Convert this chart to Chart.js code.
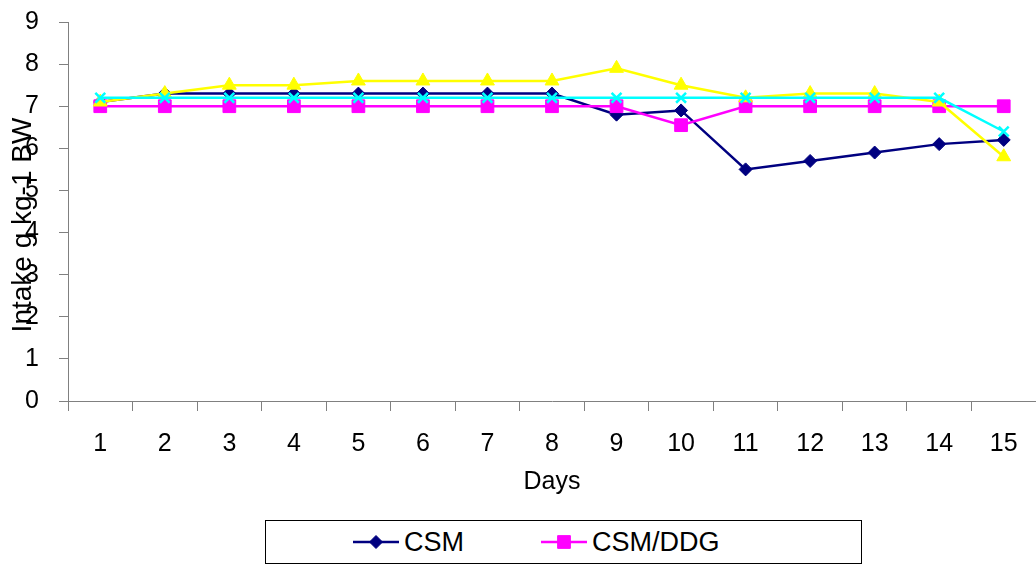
<!DOCTYPE html>
<html>
<head>
<meta charset="utf-8">
<script src="https://cdn.jsdelivr.net/npm/chart.js@4.4.1/dist/chart.umd.min.js"></script>
<style>
  html, body { margin: 0; padding: 0; background: #fff; }
  #wrap { position: relative; width: 1036px; height: 567px; }
  #legend {
    position: absolute; left: 265px; top: 520px; width: 597px; height: 44px;
    box-sizing: border-box; border: 1px solid #000; background: #fff;
    display: flex; align-items: center; padding-left: 87px;
  }
  .item { width: 188px; display: flex; align-items: center; }
  .item canvas { margin-right: 5px; }
  .item span { font-family: "Liberation Sans Narrow", "Liberation Sans", sans-serif; font-size: 27px; color: #000; }
</style>
</head>
<body>
<div id="wrap">
  <canvas id="chart" width="1036" height="567"></canvas>
  <div id="legend"></div>
</div>
<script>
const days = ['1', '2', '3', '4', '5', '6', '7', '8', '9', '10', '11', '12', '13', '14', '15'];
const csm = [7.1, 7.3, 7.3, 7.3, 7.3, 7.3, 7.3, 7.3, 6.8, 6.9, 5.5, 5.7, 5.9, 6.1, 6.2];
const csmDdg = [7.0, 7.0, 7.0, 7.0, 7.0, 7.0, 7.0, 7.0, 7.0, 6.55, 7.0, 7.0, 7.0, 7.0, 7.0];
const diet3 = [7.1, 7.3, 7.5, 7.5, 7.6, 7.6, 7.6, 7.6, 7.9, 7.5, 7.2, 7.3, 7.3, 7.1, 5.8];
const diet4 = [7.2, 7.2, 7.2, 7.2, 7.2, 7.2, 7.2, 7.2, 7.2, 7.2, 7.2, 7.2, 7.2, 7.2, 6.4];

const narrow = '"Liberation Sans Narrow", "Liberation Sans", sans-serif';

function series(label, data, color, style, radius, order) {
    return {
        label, data, order,
        borderColor: color,
        backgroundColor: color,
        borderWidth: 2.5,
        tension: 0,
        pointStyle: style,
        pointRadius: radius,
        pointHoverRadius: radius,
        pointBorderColor: color,
        pointBackgroundColor: color,
        pointBorderWidth: style === 'crossRot' ? 2.5 : 1
    };
}

// y-axis title sits over the tick labels, as in the original
const yTitle = {
    id: 'yTitle',
    afterDraw(chart) {
        const ctx = chart.ctx;
        ctx.save();
        ctx.translate(23, 225);
        ctx.rotate(-Math.PI / 2);
        ctx.font = '28px "Liberation Sans", sans-serif';
        ctx.fillStyle = '#000';
        ctx.textAlign = 'center';
        ctx.textBaseline = 'middle';
        ctx.fillText('Intake g kg-1 BW', 0, 0);
        ctx.restore();
    }
};

const chart = new Chart(document.getElementById('chart'), {
    type: 'line',
    data: {
        labels: days,
        datasets: [
            series('CSM', csm, '#000080', 'rectRot', 6.5, 3),
            series('CSM/DDG', csmDdg, '#FF00FF', 'rect', 9, 2),
            series('Diet 3', diet3, '#FFFF00', 'triangle', 8, 1),
            series('Diet 4', diet4, '#00FFFF', 'crossRot', 7, 0)
        ]
    },
    options: {
        responsive: false,
        animation: false,
        layout: { autoPadding: false, padding: { top: 22, bottom: 48, left: 0, right: 0 } },
        plugins: { legend: { display: false }, tooltip: { enabled: false } },
        scales: {
            x: {
                offset: true,
                grid: { offset: true, drawOnChartArea: false, tickLength: 10, color: '#808080' },
                border: { color: '#808080' },
                ticks: { padding: 18, color: '#000', font: { family: narrow, size: 25 } },
                title: { display: true, text: 'Days', color: '#000', font: { family: narrow, size: 25 }, padding: { top: 0, bottom: 22 } },
                afterFit(s) { s.height = 118; s.paddingLeft = 0; s.paddingRight = 0; }
            },
            y: {
                min: 0, max: 9,
                ticks: { stepSize: 1, padding: 20, color: '#000', font: { family: '"Liberation Sans", sans-serif', size: 25 } },
                grid: { drawOnChartArea: false, tickLength: 9, color: '#808080' },
                border: { color: '#808080' },
                afterFit(s) { s.width = 68; s.paddingTop = 0; s.paddingBottom = 0; }
            }
        }
    },
    plugins: [yTitle]
});

// HTML legend: the original box only shows the first two series
function buildLegend(chart) {
    const box = document.getElementById('legend');
    chart.data.datasets.slice(0, 2).forEach(ds => {
        const item = document.createElement('div');
        item.className = 'item';
        const sw = document.createElement('canvas');
        sw.width = 46; sw.height = 20;
        const c = sw.getContext('2d');
        c.strokeStyle = ds.borderColor;
        c.lineWidth = 2.5;
        c.beginPath(); c.moveTo(0, 10); c.lineTo(46, 10); c.stroke();
        c.fillStyle = ds.pointBackgroundColor;
        c.strokeStyle = ds.pointBorderColor;
        c.lineWidth = ds.pointBorderWidth;
        Chart.helpers.drawPoint(c, { pointStyle: ds.pointStyle, radius: ds.pointRadius, rotation: 0, borderWidth: ds.pointBorderWidth }, 23, 10);
        const txt = document.createElement('span');
        txt.textContent = ds.label;
        item.appendChild(sw);
        item.appendChild(txt);
        box.appendChild(item);
    });
}
buildLegend(chart);
</script>
</body>
</html>
